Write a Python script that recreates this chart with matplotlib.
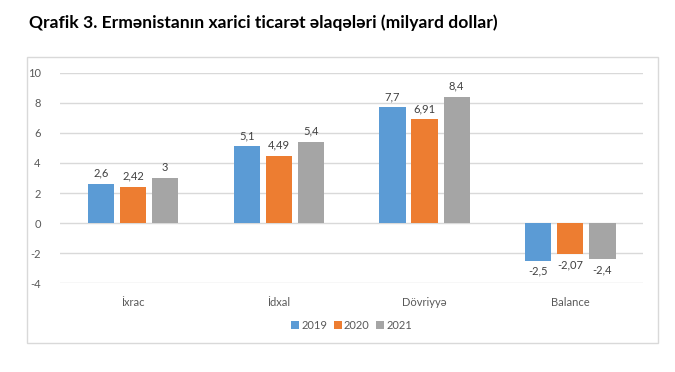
import matplotlib.pyplot as plt
import matplotlib.patches as mpatches
import numpy as np

categories = ['İxrac', 'İdxal', 'Dövriyyə', 'Balance']
years = ['2019', '2020', '2021']
v2019 = [2.6, 5.1, 7.7, -2.5]
v2020 = [2.42, 4.49, 6.91, -2.07]
v2021 = [3.0, 5.4, 8.4, -2.4]
labels2019 = ['2,6', '5,1', '7,7', '-2,5']
labels2020 = ['2,42', '4,49', '6,91', '-2,07']
labels2021 = ['3', '5,4', '8,4', '-2,4']
yticks = [-4, -2, 0, 2, 4, 6, 8, 10]

colors = ['#5B9BD5', '#ED7D31', '#A5A5A5']
plt.rcParams['font.family'] = ['Lato', 'DejaVu Sans']

fig = plt.figure(figsize=(6.75, 3.72), dpi=100)
ax = fig.add_axes([0.089, 0.239, 0.864, 0.565])

# chart border
fig.patches.append(mpatches.Rectangle((27/675, 1-343/372), 631/675, 286/372,
                                      transform=fig.transFigure, fill=False,
                                      edgecolor='#D9D9D9', linewidth=1))

fig.text(0.043, 0.94, 'Qrafik 3. Ermənistanın xarici ticarət əlaqələri (milyard dollar)',
         fontsize=12.6, fontweight='bold', color='black', va='center')

x = np.arange(len(categories))
w = 0.18
off = 0.22
series = [(v2019, labels2019), (v2020, labels2020), (v2021, labels2021)]
for i, (vals, labs) in enumerate(series):
    xs = x + (i - 1) * off
    ax.bar(xs, vals, w, color=colors[i], zorder=3, label=years[i])
    for xi, v, t in zip(xs, vals, labs):
        if v >= 0:
            ax.text(xi, v + 0.35, t, ha='center', va='bottom', fontsize=8, color='#404040')
        else:
            ax.text(xi, v - 0.35, t, ha='center', va='top', fontsize=8, color='#404040')

ax.set_xlim(-0.5, 3.5)
ax.set_ylim(-4, 10)
ax.set_yticks(yticks)
ax.set_yticklabels([str(t) for t in yticks])
ax.set_xticks(x)
ax.set_xticklabels(categories)
ax.tick_params(axis='both', length=0, labelsize=8, colors='#595959')
ax.tick_params(axis='x', pad=10)
ax.tick_params(axis='y', pad=14)
ax.grid(axis='y', color='#D9D9D9', linewidth=1, zorder=0)
for s in ax.spines.values():
    s.set_visible(False)

ax.legend(loc='center', bbox_to_anchor=(0.5, -0.2), ncol=3, frameon=False,
          fontsize=8, handlelength=0.7, handleheight=0.7, handletextpad=0.2,
          columnspacing=0.6, labelcolor='#595959')

fig.savefig('out.png', dpi=100)
